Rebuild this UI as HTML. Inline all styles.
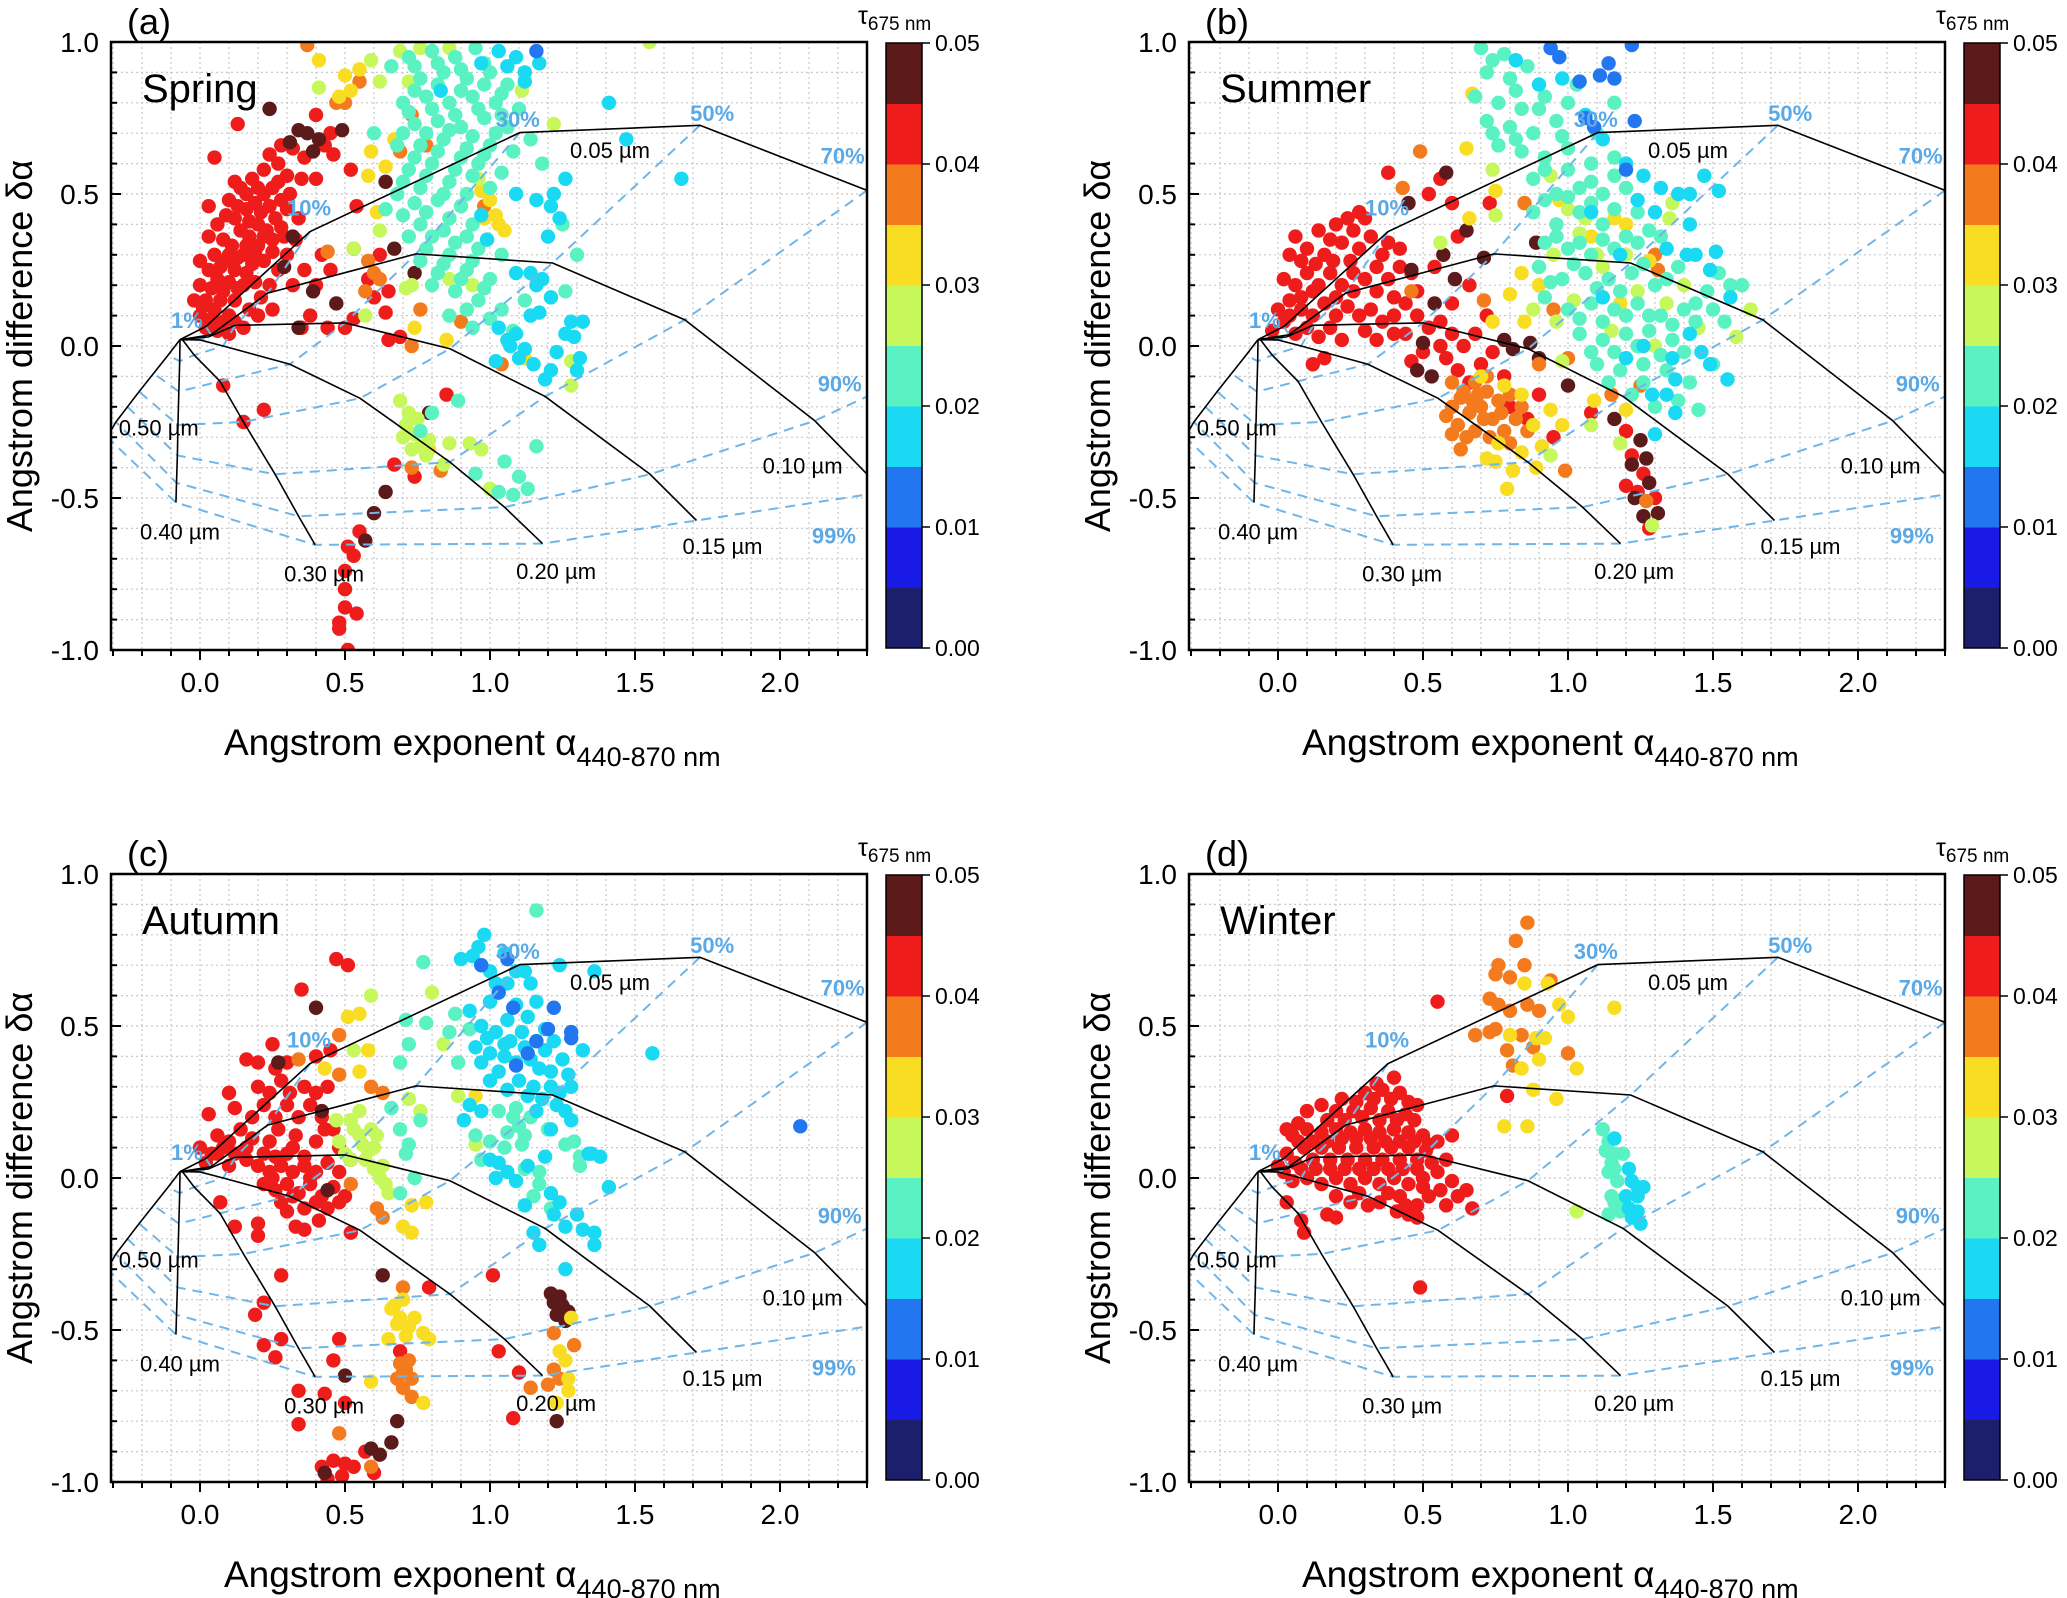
<!DOCTYPE html>
<html><head><meta charset="utf-8">
<style>
html,body{margin:0;padding:0;background:#fff;}
svg{display:block;}
text{font-family:"Liberation Sans",Arial,sans-serif;}
</style></head>
<body>
<svg id="fig" xmlns="http://www.w3.org/2000/svg" width="2067" height="1598" viewBox="0 0 2067 1598"></svg>
<script>
// ---------- data ----------
const xTicks = [0.0, 0.5, 1.0, 1.5, 2.0];
const xTickLabels = ["0.0","0.5","1.0","1.5","2.0"];
const yTicks = [1.0, 0.5, 0.0, -0.5, -1.0];
const yTickLabels = ["1.0","0.5","0.0","-0.5","-1.0"];
const cbTicks = [0.00,0.01,0.02,0.03,0.04,0.05];
const cbTickLabels = ["0.00","0.01","0.02","0.03","0.04","0.05"];
const cbColors = ["#1b1f6c","#1a1ae6","#2276f0","#19d9f3","#5af2c2","#c7f85b","#f8dd22","#f47a1e","#ef1c1c","#5c1a1a"];
const panelNames = ["Spring","Summer","Autumn","Winter"];
const panelLetters = ["(a)","(b)","(c)","(d)"];
const radiusLabels = ["0.05 µm","0.10 µm","0.15 µm","0.20 µm","0.30 µm","0.40 µm","0.50 µm"];
const fractionLabels = ["1%","10%","30%","50%","70%","90%","99%"];
const netR005 = [[0.02,0.064],[0.379,0.376],[1.103,0.702],[1.724,0.726],[2.30,0.512],[2.9,0.1],[3.2,-0.3]];
const netR010 = [[0.038,0.037],[0.233,0.174],[0.745,0.303],[1.216,0.273],[1.672,0.086],[2.12,-0.246],[2.36,-0.48]];
const netR015 = [[0.03,0.03],[0.121,0.068],[0.5,0.076],[0.862,-0.009],[1.19,-0.166],[1.552,-0.422],[1.712,-0.574]];
const netR020 = [[0.0,0.02],[0.08,0.0],[0.31,-0.06],[0.552,-0.172],[0.862,-0.382],[1.05,-0.53],[1.181,-0.65]];
const netR030 = [[-0.06,0.02],[-0.02,-0.03],[0.069,-0.116],[0.15,-0.25],[0.259,-0.422],[0.34,-0.56],[0.397,-0.654]];
const netR040 = [[-0.069,0.021],[-0.07,-0.05],[-0.073,-0.15],[-0.076,-0.26],[-0.078,-0.36],[-0.081,-0.45],[-0.083,-0.515]];
const netR050 = [[-0.069,0.021],[-0.11,-0.03],[-0.16,-0.09],[-0.21,-0.15],[-0.25,-0.2],[-0.29,-0.25],[-0.32,-0.3]];
const netOrigin = [-0.069,0.021];
const radiusLabelPos = [[1.276,0.618],[1.94,-0.42],[1.664,-0.685],[1.09,-0.767],[0.29,-0.774],[-0.207,-0.637],[-0.28,-0.295]];
const fractionLabelPos = [[-0.1,0.06],[0.3,0.43],[1.02,0.72],[1.69,0.74],[2.14,0.6],[2.13,-0.15],[2.11,-0.65]];

const springPts = [
[0.0,0.1,.0425],[0.02,0.15,.0425],[0.05,0.12,.0425],[0.08,0.18,.0425],[0.1,0.1,.0425],[0.12,0.15,.0425],[0.15,0.2,.0425],[0.0,0.2,.0425],[0.03,0.25,.0425],[0.06,0.22,.0425],[0.09,0.28,.0425],[0.12,0.25,.0425],[0.15,0.3,.0425],[0.18,0.27,.0425],[0.2,0.33,.0425],[0.05,0.3,.0425],[0.08,0.35,.0425],[0.11,0.33,.0425],[0.14,0.38,.0425],[0.17,0.36,.0425],[0.2,0.4,.0425],[0.23,0.38,.0425],[0.26,0.42,.0425],[0.12,0.42,.0425],[0.16,0.45,.0425],[0.19,0.47,.0425],[0.22,0.5,.0425],[0.25,0.52,.0425],[0.28,0.48,.0425],[0.3,0.45,.0425],[0.18,0.55,.0425],[0.22,0.58,.0425],[0.27,0.6,.0425],[0.3,0.56,.0425],[0.02,0.06,.0425],[0.06,0.05,.0425],[0.1,0.04,.0425],[0.15,0.06,.0425],[0.2,0.1,.0425],[0.24,0.2,.0425],[0.27,0.25,.0425],[0.3,0.3,.0425],[0.33,0.35,.0425],[0.32,0.2,.0425],[0.25,0.12,.0425],[0.35,0.06,.0425],[0.38,0.1,.0425],[0.4,0.2,.0425],[0.36,0.25,.0425],[0.42,0.3,.0425],[-0.02,0.15,.0425],[0.0,0.28,.0425],[0.03,0.36,.0425],[0.1,0.48,.0425],[0.14,0.52,.0425],[0.32,0.65,.0425],[0.36,0.62,.0425],[0.4,0.55,.0425],[0.05,0.62,.0425],[0.13,0.73,.0425],[0.12,0.54,.0425],[0.03,0.46,.0425],[0.45,0.25,.0425],[0.5,0.06,.0425],[0.44,0.06,.0425],[0.08,0.08,.0425],
[0.01,0.13,.0425],[0.04,0.19,.0425],[0.07,0.15,.0425],[0.1,0.21,.0425],[0.13,0.19,.0425],[0.16,0.24,.0425],[0.19,0.21,.0425],[0.22,0.28,.0425],[0.25,0.31,.0425],[0.07,0.26,.0425],[0.1,0.3,.0425],[0.13,0.29,.0425],[0.16,0.33,.0425],[0.19,0.31,.0425],[0.22,0.36,.0425],[0.25,0.35,.0425],[0.28,0.39,.0425],[0.06,0.4,.0425],[0.09,0.43,.0425],[0.13,0.46,.0425],[0.17,0.41,.0425],[0.21,0.44,.0425],[0.24,0.46,.0425],[0.27,0.54,.0425],[0.2,0.52,.0425],[0.16,0.5,.0425],[0.04,0.09,.0425],[0.12,0.08,.0425],[0.17,0.12,.0425],[0.21,0.16,.0425],[0.29,0.36,.0425],[0.34,0.42,.0425],[0.31,0.5,.0425],[0.35,0.55,.0425],[0.24,0.63,.0425],[0.28,0.66,.0425],
[0.52,0.58,.0425],[0.46,0.63,.0425],[0.40,0.76,.0425],[0.54,0.46,.0425],[0.53,0.32,.0425],[0.65,0.18,.0425],[0.65,0.02,.0425],[0.69,0.03,.0425],[0.64,0.11,.0425],[0.53,0.09,.0425],[0.67,-0.39,.0425],[0.74,-0.43,.0425],[0.85,-0.16,.0425],[0.08,-0.13,.0425],[0.22,-0.21,.0425],[0.15,-0.25,.0425],[0.55,-0.61,.0425],[0.51,-0.66,.0425],[0.53,-0.69,.0425],[0.5,-0.74,.0425],[0.5,-0.86,.0425],[0.54,-0.88,.0425],[0.48,-0.91,.0425],[0.48,-0.93,.0425],[0.51,-1.0,.0425],[0.5,-0.8,.0425],[0.6,0.16,.0425],[0.62,0.3,.0425],[0.58,0.22,.0425],[0.43,0.66,.0425],[0.45,0.7,.0425],
[0.24,0.78,.0475],[0.34,0.71,.0475],[0.41,0.68,.0475],[0.49,0.71,.0475],[0.32,0.36,.0475],[0.29,0.26,.0475],[0.39,0.18,.0475],[0.47,0.14,.0475],[0.34,0.06,.0475],[0.74,0.24,.0475],[0.67,0.32,.0475],[0.64,0.54,.0475],[0.79,-0.22,.0475],[0.64,-0.48,.0475],[0.60,-0.55,.0475],[0.57,-0.64,.0475],[0.37,0.7,.0475],[0.39,0.64,.0475],[0.31,0.67,.0475],
[0.37,0.99,.0375],[0.5,0.80,.0375],[0.55,0.87,.0375],[0.73,0.76,.0375],[0.69,0.64,.0375],[0.78,0.66,.0375],[0.44,0.31,.0375],[0.6,0.24,.0375],[0.76,0.12,.0375],[0.9,0.08,.0375],[0.73,0.0,.0375],[0.98,0.46,.0375],[1.04,-0.06,.0375],[0.73,-0.4,.0375],[0.83,-0.41,.0375],[0.58,0.28,.0375],[0.62,0.22,.0375],[0.57,0.18,.0375],[0.47,0.8,.0375],
[0.41,0.94,.0325],[0.5,0.89,.0325],[0.55,0.91,.0325],[0.59,0.64,.0325],[0.67,0.68,.0325],[0.58,0.56,.0325],[0.64,0.59,.0325],[1.03,0.40,.0325],[1.05,0.38,.0325],[0.97,0.51,.0325],[0.74,0.06,.0325],[0.85,0.02,.0325],[1.12,-0.04,.0325],[0.79,-0.34,.0325],[1.0,0.48,.0325],[0.61,0.44,.0325],[1.02,0.43,.0325],[0.98,0.42,.0325],[0.48,0.82,.0325],[0.52,0.84,.0325],
[0.69,0.97,.0275],[0.76,0.98,.0275],[0.86,0.98,.0275],[0.62,0.87,.0275],[0.72,0.87,.0275],[0.53,0.32,.0275],[0.62,0.38,.0275],[0.71,0.19,.0275],[0.86,0.22,.0275],[0.94,0.2,.0275],[1.28,-0.05,.0275],[1.28,-0.13,.0275],[0.69,-0.18,.0275],[0.72,-0.22,.0275],[0.74,-0.29,.0275],[0.76,-0.33,.0275],[0.79,-0.31,.0275],[0.86,-0.32,.0275],[0.93,-0.32,.0275],[0.97,-0.34,.0275],[0.84,-0.39,.0275],[1.0,-0.47,.0275],[1.55,1.0,.0275],[1.22,0.73,.0275],[1.11,0.84,.0275],[0.71,-0.26,.0275],[0.75,-0.24,.0275],[0.41,0.85,.0275],[0.59,0.94,.0275],[0.73,0.2,.0275],[0.57,0.1,.0275],[0.7,-0.3,.0275],[0.73,-0.34,.0275],[0.78,-0.36,.0275],[0.9,0.46,.0275],[0.96,0.55,.0275],
[0.72,0.95,.0225],[0.8,0.97,.0225],[0.88,0.95,.0225],[0.95,0.98,.0225],[0.76,0.88,.0225],[0.84,0.9,.0225],[0.92,0.88,.0225],[1.0,0.9,.0225],[1.06,0.86,.0225],[0.7,0.8,.0225],[0.78,0.82,.0225],[0.86,0.8,.0225],[0.94,0.82,.0225],[1.02,0.8,.0225],[1.1,0.78,.0225],[0.74,0.73,.0225],[0.82,0.74,.0225],[0.9,0.72,.0225],[0.98,0.75,.0225],[1.06,0.72,.0225],[0.68,0.66,.0225],[0.76,0.66,.0225],[0.84,0.68,.0225],[0.92,0.65,.0225],[1.0,0.66,.0225],[1.08,0.64,.0225],[0.72,0.58,.0225],[0.8,0.6,.0225],[0.88,0.58,.0225],[0.96,0.6,.0225],[1.04,0.57,.0225],[0.68,0.5,.0225],[0.76,0.52,.0225],[0.84,0.5,.0225],[0.92,0.5,.0225],[1.0,0.52,.0225],[0.7,0.43,.0225],[0.78,0.44,.0225],[0.86,0.42,.0225],[0.94,0.4,.0225],[0.72,0.36,.0225],[0.8,0.36,.0225],[0.88,0.34,.0225],[0.96,0.32,.0225],[1.04,0.3,.0225],[0.76,0.28,.0225],[0.84,0.27,.0225],[0.92,0.25,.0225],[1.0,0.22,.0225],[0.8,0.2,.0225],[0.88,0.18,.0225],[0.96,0.15,.0225],[1.04,0.12,.0225],[0.86,0.1,.0225],[0.94,0.06,.0225],[1.08,0.05,.0225],[1.12,0.15,.0225],[0.64,0.45,.0225],[0.6,0.7,.0225],[0.66,0.92,.0225],[1.14,0.68,.0225],[1.18,0.6,.0225],[1.25,0.4,.0225],[1.3,0.3,.0225],[1.26,0.18,.0225],[1.05,-0.38,.0225],[1.08,-0.49,.0225],[1.16,-0.33,.0225],[1.13,-0.47,.0225],[1.1,-0.43,.0225],[0.89,-0.18,.0225],[0.8,-0.22,.0225],[0.76,-0.28,.0225],[0.95,-0.42,.0225],[1.03,-0.48,.0225],
[0.74,0.92,.0225],[0.82,0.93,.0225],[0.9,0.91,.0225],[0.98,0.93,.0225],[0.74,0.84,.0225],[0.82,0.86,.0225],[0.9,0.84,.0225],[0.98,0.86,.0225],[1.04,0.83,.0225],[0.72,0.77,.0225],[0.8,0.78,.0225],[0.88,0.76,.0225],[0.96,0.78,.0225],[1.04,0.76,.0225],[0.7,0.7,.0225],[0.78,0.7,.0225],[0.86,0.71,.0225],[0.94,0.69,.0225],[1.02,0.7,.0225],[0.74,0.62,.0225],[0.82,0.64,.0225],[0.9,0.62,.0225],[0.98,0.63,.0225],[0.7,0.54,.0225],[0.78,0.56,.0225],[0.86,0.54,.0225],[0.94,0.56,.0225],[0.74,0.47,.0225],[0.82,0.48,.0225],[0.9,0.46,.0225],[0.76,0.4,.0225],[0.84,0.38,.0225],[0.92,0.36,.0225],[0.78,0.32,.0225],[0.86,0.3,.0225],[0.94,0.28,.0225],[0.82,0.24,.0225],[0.9,0.22,.0225],[0.98,0.19,.0225],[0.92,0.12,.0225],[1.0,0.09,.0225],
[1.41,0.8,.0175],[1.47,0.68,.0175],[1.66,0.55,.0175],[1.26,0.55,.0175],[1.21,0.46,.0175],[1.16,0.48,.0175],[1.09,0.5,.0175],[0.97,0.43,.0175],[0.99,0.35,.0175],[1.14,0.24,.0175],[1.21,0.16,.0175],[1.17,0.11,.0175],[1.28,0.08,.0175],[1.32,0.08,.0175],[1.29,0.03,.0175],[1.23,-0.02,.0175],[1.31,-0.04,.0175],[1.3,-0.08,.0175],[1.19,-0.11,.0175],[1.21,-0.08,.0175],[1.12,-0.01,.0175],[1.03,0.06,.0175],[1.07,0.0,.0175],[1.09,0.04,.0175],[1.02,-0.05,.0175],[1.1,-0.04,.0175],[1.14,0.1,.0175],[1.18,0.22,.0175],[1.09,0.24,.0175],[0.83,0.84,.0175],[0.97,0.93,.0175],[1.09,0.95,.0175],[1.17,0.93,.0175],[1.12,0.9,.0175],[1.03,0.97,.0175],[1.2,0.36,.0175],[1.22,0.5,.0175],[1.24,0.42,.0175],[1.16,0.2,.0175],[1.06,0.02,.0175],[1.15,-0.06,.0175],[1.26,0.04,.0175],[1.12,0.87,.0175],[1.06,0.92,.0175],
[1.16,0.97,.0125]
];
const summerPts = [
[-0.02,0.05,.0425],[0.02,0.08,.0425],[0.06,0.04,.0425],[0.1,0.06,.0425],[0.14,0.03,.0425],[0.18,0.06,.0425],[0.22,0.02,.0425],[0.0,0.12,.0425],[0.04,0.15,.0425],[0.08,0.12,.0425],[0.12,0.1,.0425],[0.16,0.14,.0425],[0.2,0.1,.0425],[0.24,0.13,.0425],[0.28,0.1,.0425],[0.32,0.12,.0425],[0.36,0.08,.0425],[0.4,0.1,.0425],[0.02,0.22,.0425],[0.06,0.2,.0425],[0.1,0.24,.0425],[0.14,0.2,.0425],[0.18,0.24,.0425],[0.22,0.2,.0425],[0.26,0.24,.0425],[0.3,0.22,.0425],[0.34,0.26,.0425],[0.38,0.22,.0425],[0.42,0.26,.0425],[0.46,0.24,.0425],[0.04,0.3,.0425],[0.1,0.32,.0425],[0.16,0.3,.0425],[0.22,0.34,.0425],[0.28,0.32,.0425],[0.32,0.36,.0425],[0.38,0.34,.0425],[0.14,0.38,.0425],[0.2,0.4,.0425],[0.26,0.38,.0425],[0.3,0.42,.0425],[0.44,0.14,.0425],[0.48,0.1,.0425],[0.52,0.06,.0425],[0.56,0.08,.0425],[0.6,0.04,.0425],[0.64,0.0,.0425],[0.44,0.04,.0425],[0.5,-0.02,.0425],[0.58,-0.04,.0425],[0.62,-0.08,.0425],[0.7,-0.06,.0425],[0.46,-0.05,.0425],[0.38,0.57,.0425],[0.56,0.55,.0425],[0.52,0.5,.0425],[0.28,0.44,.0425],[0.6,0.47,.0425],[0.73,0.47,.0425],[0.62,0.36,.0425],[0.54,0.26,.0425],[0.66,0.2,.0425],[0.6,0.14,.0425],[0.72,0.1,.0425],[0.78,-0.1,.0425],[0.8,-0.2,.0425],[0.86,-0.24,.0425],[0.9,-0.16,.0425],[0.95,-0.3,.0425],[1.2,-0.28,.0425],[1.22,-0.36,.0425],[1.26,-0.42,.0425],[1.24,-0.48,.0425],[1.3,-0.5,.0425],[1.28,-0.6,.0425],[1.2,-0.46,.0425],[0.12,-0.06,.0425],[0.16,-0.04,.0425],[1.08,-0.22,.0425],
[0.04,0.1,.0425],[0.08,0.16,.0425],[0.12,0.18,.0425],[0.2,0.16,.0425],[0.26,0.18,.0425],[0.34,0.18,.0425],[0.4,0.16,.0425],[0.48,0.18,.0425],[0.08,0.28,.0425],[0.13,0.27,.0425],[0.19,0.28,.0425],[0.25,0.28,.0425],[0.36,0.3,.0425],[0.42,0.32,.0425],[0.18,0.35,.0425],[0.24,0.42,.0425],[0.4,0.04,.0425],[0.56,0.0,.0425],[0.66,-0.12,.0425],[0.74,-0.02,.0425],[0.68,0.04,.0425],[0.3,0.05,.0425],[0.34,0.02,.0425],[0.06,0.36,.0425],
[0.58,0.57,.0475],[0.45,0.47,.0475],[0.65,0.38,.0475],[0.57,0.3,.0475],[0.46,0.25,.0475],[0.61,0.22,.0475],[0.71,0.29,.0475],[0.54,0.14,.0475],[0.5,0.01,.0475],[0.48,-0.08,.0475],[0.53,-0.1,.0475],[0.78,0.02,.0475],[0.87,0.01,.0475],[0.9,-0.04,.0475],[0.81,-0.01,.0475],[1.0,-0.13,.0475],[1.16,-0.24,.0475],[1.25,-0.31,.0475],[1.22,-0.39,.0475],[1.27,-0.37,.0475],[1.28,-0.45,.0475],[1.23,-0.5,.0475],[1.26,-0.56,.0475],[1.31,-0.55,.0475],[0.89,0.34,.0475],
[0.6,-0.12,.0375],[0.64,-0.15,.0375],[0.68,-0.12,.0375],[0.72,-0.15,.0375],[0.76,-0.18,.0375],[0.6,-0.2,.0375],[0.66,-0.22,.0375],[0.7,-0.2,.0375],[0.74,-0.24,.0375],[0.8,-0.16,.0375],[0.84,-0.2,.0375],[0.62,-0.26,.0375],[0.68,-0.28,.0375],[0.78,-0.28,.0375],[0.86,-0.28,.0375],[0.72,-0.1,.0375],[0.49,0.64,.0375],[0.43,0.52,.0375],[0.46,0.18,.0375],[0.71,0.15,.0375],[0.85,0.47,.0375],[0.95,0.12,.0375],[1.0,-0.04,.0375],[1.15,-0.16,.0375],[1.25,-0.13,.0375],[1.31,0.25,.0375],[0.99,-0.41,.0375],[1.27,-0.51,.0375],[0.63,-0.34,.0375],[0.58,-0.23,.0375],[0.9,-0.06,.0375],[1.3,0.3,.0375],
[0.63,-0.17,.0375],[0.67,-0.18,.0375],[0.71,-0.24,.0375],[0.77,-0.22,.0375],[0.82,-0.24,.0375],[0.65,-0.3,.0375],[0.73,-0.3,.0375],[0.8,-0.32,.0375],[0.6,-0.29,.0375],[0.69,-0.16,.0375],
[0.65,0.65,.0325],[0.67,0.83,.0325],[0.75,0.51,.0325],[0.66,0.42,.0325],[0.84,0.24,.0325],[0.8,0.17,.0325],[0.85,0.08,.0325],[0.74,0.08,.0325],[0.7,-0.1,.0325],[0.78,-0.13,.0325],[0.84,-0.16,.0325],[0.94,-0.21,.0325],[1.09,-0.18,.0325],[1.2,-0.21,.0325],[0.72,-0.37,.0325],[0.75,-0.38,.0325],[0.81,-0.41,.0325],[0.89,-0.4,.0325],[0.79,-0.47,.0325],[0.91,-0.33,.0325],[1.16,0.42,.0325],[1.2,0.4,.0325],[0.97,0.48,.0325],[1.18,0.14,.0325],[1.28,0.28,.0325],[1.08,0.36,.0325],[0.9,0.2,.0325],[0.76,-0.32,.0325],[0.84,-0.35,.0325],[0.88,-0.26,.0325],[0.98,-0.26,.0325],
[0.56,0.34,.0275],[0.75,0.43,.0275],[0.74,0.58,.0275],[0.94,0.56,.0275],[1.0,0.45,.0275],[1.04,0.37,.0275],[1.1,0.3,.0275],[1.63,0.12,.0275],[1.58,0.03,.0275],[1.45,0.06,.0275],[1.18,-0.32,.0275],[1.29,-0.59,.0275],[0.94,-0.36,.0275],[1.08,-0.26,.0275],[1.35,0.42,.0275],[1.36,0.47,.0275],[0.95,0.3,.0275],[1.02,0.15,.0275],[1.15,0.05,.0275],[0.88,0.12,.0275],[1.3,0.0,.0275],[1.4,0.2,.0275],[0.98,-0.05,.0275],[1.06,0.42,.0275],[1.12,0.26,.0275],[0.96,0.08,.0275],[1.24,0.18,.0275],[1.34,0.14,.0275],[1.2,0.3,.0275],
[0.7,0.98,.0225],[0.78,0.96,.0225],[0.72,0.9,.0225],[0.8,0.88,.0225],[0.86,0.92,.0225],[0.68,0.82,.0225],[0.76,0.8,.0225],[0.84,0.78,.0225],[0.92,0.82,.0225],[0.72,0.74,.0225],[0.8,0.72,.0225],[0.88,0.7,.0225],[0.96,0.74,.0225],[1.0,0.8,.0225],[0.76,0.66,.0225],[0.84,0.64,.0225],[0.92,0.62,.0225],[1.0,0.65,.0225],[1.08,0.6,.0225],[1.16,0.62,.0225],[0.88,0.55,.0225],[0.96,0.5,.0225],[1.04,0.52,.0225],[1.12,0.5,.0225],[1.2,0.52,.0225],[0.88,0.44,.0225],[0.96,0.4,.0225],[1.04,0.44,.0225],[1.12,0.4,.0225],[1.24,0.44,.0225],[0.92,0.34,.0225],[1.0,0.32,.0225],[1.08,0.3,.0225],[1.16,0.32,.0225],[1.24,0.34,.0225],[1.32,0.36,.0225],[0.9,0.26,.0225],[0.98,0.22,.0225],[1.06,0.24,.0225],[1.14,0.22,.0225],[1.22,0.24,.0225],[1.3,0.2,.0225],[1.38,0.26,.0225],[0.92,0.16,.0225],[1.0,0.12,.0225],[1.08,0.14,.0225],[1.16,0.12,.0225],[1.24,0.14,.0225],[1.32,0.1,.0225],[1.4,0.12,.0225],[1.48,0.18,.0225],[1.04,0.04,.0225],[1.12,0.02,.0225],[1.2,0.04,.0225],[1.28,0.05,.0225],[1.36,0.02,.0225],[1.44,0.08,.0225],[1.1,-0.06,.0225],[1.18,-0.08,.0225],[1.26,-0.06,.0225],[1.34,-0.08,.0225],[1.22,-0.16,.0225],[1.3,-0.2,.0225],[1.38,-0.18,.0225],[1.52,0.24,.0225],[1.56,0.2,.0225],[1.6,0.2,.0225],[1.5,0.12,.0225],[1.45,-0.21,.0225],[1.5,-0.06,.0225],[1.1,0.7,.0225],[1.16,0.8,.0225],[1.03,0.86,.0225],
[0.74,0.94,.0225],[0.82,0.84,.0225],[0.9,0.78,.0225],[0.74,0.7,.0225],[0.82,0.68,.0225],[0.98,0.69,.0225],[0.92,0.58,.0225],[1.0,0.58,.0225],[1.08,0.54,.0225],[1.16,0.56,.0225],[0.92,0.48,.0225],[1.0,0.49,.0225],[1.08,0.47,.0225],[1.16,0.45,.0225],[0.96,0.36,.0225],[1.04,0.34,.0225],[1.12,0.35,.0225],[1.2,0.36,.0225],[1.28,0.38,.0225],[0.94,0.21,.0225],[1.02,0.27,.0225],[1.1,0.19,.0225],[1.18,0.18,.0225],[1.26,0.27,.0225],[1.34,0.22,.0225],[1.04,0.09,.0225],[1.12,0.08,.0225],[1.2,0.1,.0225],[1.28,0.1,.0225],[1.36,0.07,.0225],[1.08,-0.02,.0225],[1.16,-0.02,.0225],[1.24,0.0,.0225],[1.32,-0.03,.0225],[1.4,-0.02,.0225],[1.14,-0.12,.0225],[1.26,-0.12,.0225],[1.42,-0.12,.0225],[1.44,0.14,.0225],[1.54,0.08,.0225],
[0.94,0.98,.0175],[0.82,0.94,.0175],[0.9,0.86,.0175],[0.98,0.88,.0175],[1.06,0.76,.0175],[1.12,0.68,.0175],[1.2,0.6,.0175],[1.26,0.56,.0175],[1.32,0.52,.0175],[1.38,0.5,.0175],[1.47,0.56,.0175],[1.52,0.51,.0175],[1.42,0.5,.0175],[1.41,0.3,.0175],[1.51,0.31,.0175],[1.49,0.25,.0175],[1.56,0.16,.0175],[1.46,-0.02,.0175],[1.49,-0.06,.0175],[1.55,-0.11,.0175],[1.37,-0.11,.0175],[1.34,-0.16,.0175],[1.37,-0.22,.0175],[1.3,-0.29,.0175],[1.29,-0.16,.0175],[1.2,-0.04,.0175],[1.26,0.0,.0175],[1.3,0.44,.0175],[1.18,0.3,.0175],[1.12,0.16,.0175],[1.42,0.4,.0175],[1.44,0.3,.0175],[1.08,0.44,.0175],[1.24,0.48,.0175],[1.34,0.32,.0175],[1.42,0.04,.0175],[1.36,-0.04,.0175],
[0.94,0.98,.0125],[0.97,0.95,.0125],[1.11,0.89,.0125],[1.16,0.88,.0125],[1.22,0.99,.0125],[1.14,0.93,.0125],[1.04,0.87,.0125],[1.09,0.72,.0125],[1.06,0.75,.0125],[1.23,0.74,.0125],[1.2,0.58,.0125]
];
const autumnPts = [
[0.47,0.72,.0425],[0.51,0.7,.0425],[0.35,0.62,.0425],[0.16,0.39,.0425],[0.2,0.38,.0425],[0.1,0.28,.0425],[0.03,0.21,.0425],[0.07,-0.08,.0425],[0.12,-0.16,.0425],[0.2,-0.15,.0425],[0.2,-0.19,.0425],[0.33,-0.16,.0425],[0.36,-0.17,.0425],[0.41,-0.14,.0425],[0.52,-0.18,.0425],[0.28,-0.32,.0425],[0.22,-0.41,.0425],[0.19,-0.45,.0425],[0.22,-0.55,.0425],[0.26,-0.59,.0425],[0.28,-0.53,.0425],[0.48,-0.53,.0425],[0.46,-0.6,.0425],[0.34,-0.7,.0425],[0.43,-0.71,.0425],[0.34,-0.81,.0425],[0.46,-0.93,.0425],[0.5,-0.94,.0425],[0.42,-0.95,.0425],[0.53,-0.95,.0425],[0.49,-0.98,.0425],[0.44,-0.99,.0425],[0.57,-0.9,.0425],[0.6,-0.97,.0425],[0.79,-0.36,.0425],[1.01,-0.32,.0425],[1.03,-0.57,.0425],[1.1,-0.64,.0425],[1.08,-0.79,.0425],[0.69,-0.57,.0425],[0.5,-0.74,.0425],
[0.02,0.05,.0425],[0.06,0.08,.0425],[0.1,0.12,.0425],[0.14,0.16,.0425],[0.06,0.14,.0425],[0.0,0.1,.0425],[0.18,0.2,.0425],[0.22,0.24,.0425],[0.26,0.2,.0425],[0.3,0.24,.0425],[0.34,0.2,.0425],[0.38,0.24,.0425],[0.42,0.2,.0425],[0.46,0.16,.0425],[0.2,0.3,.0425],[0.28,0.32,.0425],[0.36,0.3,.0425],[0.44,0.3,.0425],[0.3,0.38,.0425],[0.4,0.4,.0425],[0.24,0.12,.0425],[0.32,0.1,.0425],[0.4,0.12,.0425],[0.48,0.1,.0425],[0.1,0.04,.0425],[0.16,0.06,.0425],[0.2,0.04,.0425],[0.24,0.02,.0425],[0.28,0.04,.0425],[0.32,0.02,.0425],[0.36,0.04,.0425],[0.4,0.02,.0425],[0.44,0.05,.0425],[0.48,0.02,.0425],[0.22,-0.02,.0425],[0.26,-0.04,.0425],[0.3,-0.02,.0425],[0.34,-0.05,.0425],[0.38,-0.02,.0425],[0.42,-0.06,.0425],[0.46,-0.03,.0425],[0.5,-0.06,.0425],[0.28,-0.08,.0425],[0.36,-0.1,.0425],[0.44,-0.1,.0425],[0.3,0.08,.0425],[0.36,0.07,.0425],[0.16,0.1,.0425],[0.52,0.06,.0425],[0.25,0.44,.0425],[0.45,0.42,.0425],
[0.04,0.08,.0425],[0.08,0.1,.0425],[0.12,0.08,.0425],[0.18,0.13,.0425],[0.27,0.16,.0425],[0.31,0.28,.0425],[0.24,0.28,.0425],[0.4,0.28,.0425],[0.33,0.14,.0425],[0.43,0.16,.0425],[0.22,0.08,.0425],[0.26,0.07,.0425],[0.38,0.0,.0425],[0.25,0.0,.0425],[0.32,-0.06,.0425],[0.4,-0.08,.0425],[0.48,-0.08,.0425],[0.3,-0.11,.0425],[0.26,0.36,.0425],[0.12,0.23,.0425],
[0.4,0.56,.0475],[0.27,0.38,.0475],[0.42,0.22,.0475],[0.44,-0.04,.0475],[0.63,-0.32,.0475],[0.5,-0.65,.0475],[0.68,-0.8,.0475],[0.66,-0.87,.0475],[0.59,-0.89,.0475],[0.62,-0.91,.0475],[0.43,-0.97,.0475],[1.23,-0.8,.0475],[1.21,-0.38,.0475],[1.22,-0.41,.0475],[1.25,-0.42,.0475],[1.27,-0.44,.0475],[1.23,-0.45,.0475],[1.24,-0.39,.0475],[1.26,-0.47,.0475],
[0.48,0.47,.0375],[0.34,0.39,.0375],[0.48,0.34,.0375],[0.59,0.3,.0375],[0.63,0.28,.0375],[0.61,-0.1,.0375],[0.63,-0.13,.0375],[0.52,-0.02,.0375],[0.7,-0.36,.0375],[0.69,-0.61,.0375],[0.71,-0.63,.0375],[0.73,-0.66,.0375],[0.7,-0.69,.0375],[0.73,-0.72,.0375],[0.7,-0.64,.0375],[0.48,-0.84,.0375],[0.59,-0.95,.0375],[1.14,-0.69,.0375],[1.22,-0.51,.0375],[1.22,-0.63,.0375],[1.24,-0.66,.0375],[1.29,-0.55,.0375],[0.72,-0.6,.0375],[0.68,-0.66,.0375],[1.2,-0.68,.0375],
[0.51,0.53,.0325],[0.55,0.54,.0325],[0.58,0.42,.0325],[0.43,0.36,.0325],[0.55,0.35,.0325],[0.95,0.27,.0325],[0.73,-0.09,.0325],[0.78,-0.08,.0325],[0.7,-0.16,.0325],[0.73,-0.18,.0325],[0.7,-0.4,.0325],[0.66,-0.43,.0325],[0.69,-0.46,.0325],[0.72,-0.49,.0325],[0.77,-0.51,.0325],[0.79,-0.53,.0325],[0.65,-0.53,.0325],[0.68,-0.48,.0325],[0.59,-0.67,.0325],[0.77,-0.74,.0325],[1.28,-0.46,.0325],[1.24,-0.57,.0325],[1.27,-0.66,.0325],[1.27,-0.7,.0325],[1.23,-0.74,.0325],[1.26,-0.6,.0325],[0.67,-0.42,.0325],[0.74,-0.46,.0325],[0.71,-0.52,.0325],
[0.59,0.6,.0275],[0.53,0.42,.0275],[0.84,0.44,.0275],[0.8,0.61,.0275],[0.72,0.26,.0275],[0.76,0.22,.0275],[0.52,0.19,.0275],[0.47,0.19,.0275],[0.55,0.22,.0275],[0.59,0.16,.0275],[0.61,0.14,.0275],[0.5,0.08,.0275],[0.52,0.06,.0275],[0.57,0.06,.0275],[0.6,0.03,.0275],[0.64,-0.02,.0275],[0.65,-0.05,.0275],[0.62,0.0,.0275],[0.95,0.11,.0275],[0.89,0.27,.0275],[0.56,0.11,.0275],[0.48,0.12,.0275],[0.55,0.14,.0275],[0.58,0.09,.0275],[0.53,0.16,.0275],[0.6,0.1,.0275],[0.63,0.04,.0275],
[1.16,0.88,.0225],[0.77,0.71,.0225],[0.71,0.52,.0225],[0.78,0.51,.0225],[0.69,0.38,.0225],[0.72,0.44,.0225],[0.88,0.54,.0225],[0.89,0.38,.0225],[0.93,0.49,.0225],[0.86,0.48,.0225],[0.66,0.23,.0225],[0.69,0.16,.0225],[0.72,0.11,.0225],[0.76,0.19,.0225],[0.71,0.08,.0225],[0.74,0.0,.0225],[0.69,-0.05,.0225],[1.03,0.22,.0225],[1.08,0.2,.0225],[1.1,0.17,.0225],[1.12,0.14,.0225],[1.14,0.2,.0225],[1.06,0.15,.0225],[0.95,0.14,.0225],[1.0,0.12,.0225],[0.97,0.06,.0225],[1.12,0.03,.0225],[1.17,-0.02,.0225],[1.15,-0.06,.0225],[1.21,-0.1,.0225],[1.26,0.11,.0225],[1.31,0.07,.0225],[1.29,0.12,.0225],[1.31,0.04,.0225],[1.17,0.02,.0225],[1.2,0.16,.0225],[1.09,0.23,.0225],[1.11,0.11,.0225],[1.05,0.1,.0225],
[0.98,0.8,.0175],[0.9,0.72,.0175],[0.94,0.73,.0175],[0.97,0.7,.0175],[1.0,0.68,.0175],[1.02,0.64,.0175],[1.09,0.68,.0175],[1.12,0.68,.0175],[1.14,0.64,.0175],[1.03,0.61,.0175],[1.09,0.57,.0175],[1.13,0.53,.0175],[0.93,0.55,.0175],[0.97,0.5,.0175],[1.02,0.48,.0175],[1.07,0.45,.0175],[1.11,0.48,.0175],[1.16,0.45,.0175],[1.19,0.49,.0175],[1.22,0.45,.0175],[0.95,0.43,.0175],[1.0,0.41,.0175],[1.05,0.4,.0175],[1.09,0.38,.0175],[1.14,0.39,.0175],[1.17,0.36,.0175],[1.21,0.35,.0175],[0.97,0.38,.0175],[1.03,0.35,.0175],[1.1,0.32,.0175],[1.15,0.3,.0175],[1.21,0.3,.0175],[1.27,0.34,.0175],[1.32,0.42,.0175],[1.28,0.3,.0175],[1.23,0.24,.0175],[1.28,0.19,.0175],[1.16,0.22,.0175],[1.21,0.16,.0175],[0.93,0.24,.0175],[0.91,0.19,.0175],[0.97,0.22,.0175],[1.0,0.06,.0175],[1.03,0.05,.0175],[1.02,0.0,.0175],[1.09,-0.01,.0175],[1.12,-0.09,.0175],[1.13,0.04,.0175],[1.21,-0.05,.0175],[1.22,-0.12,.0175],[1.26,-0.16,.0175],[1.32,-0.17,.0175],[1.15,-0.18,.0175],[1.17,-0.22,.0175],[1.36,-0.18,.0175],[1.36,-0.22,.0175],[1.26,-0.3,.0175],[1.41,-0.03,.0175],[1.56,0.41,.0175],[1.35,0.08,.0175],[1.38,0.07,.0175],[1.24,0.7,.0175],[1.36,0.68,.0175],[1.34,0.08,.0175],
[0.96,0.76,.0175],[1.05,0.74,.0175],[1.06,0.64,.0175],[1.0,0.58,.0175],[1.06,0.52,.0175],[1.16,0.58,.0175],[0.99,0.46,.0175],[1.05,0.44,.0175],[1.12,0.43,.0175],[1.19,0.42,.0175],[1.25,0.39,.0175],[1.0,0.32,.0175],[1.06,0.29,.0175],[1.13,0.27,.0175],[1.24,0.28,.0175],[1.18,0.26,.0175],[1.26,0.22,.0175],[1.06,0.02,.0175],[1.19,0.07,.0175],[1.24,-0.08,.0175],[1.3,-0.12,.0175],
[0.97,0.7,.0125],[1.06,0.72,.0125],[1.03,0.61,.0125],[1.08,0.56,.0125],[1.22,0.56,.0125],[1.28,0.48,.0125],[1.28,0.46,.0125],[1.2,0.49,.0125],[1.16,0.45,.0125],[1.13,0.41,.0125],[1.09,0.37,.0125],[2.07,0.17,.0125]
];
const winterPts = [
[0.0,0.04,.0425],[0.03,0.08,.0425],[0.06,0.05,.0425],[0.09,0.1,.0425],[0.12,0.06,.0425],[0.15,0.1,.0425],[0.18,0.06,.0425],[0.21,0.1,.0425],[0.24,0.06,.0425],[0.27,0.1,.0425],[0.3,0.06,.0425],[0.33,0.1,.0425],[0.36,0.06,.0425],[0.39,0.1,.0425],[0.42,0.06,.0425],[0.45,0.1,.0425],[0.48,0.06,.0425],[0.51,0.09,.0425],[0.05,0.14,.0425],[0.1,0.16,.0425],[0.15,0.15,.0425],[0.2,0.16,.0425],[0.25,0.15,.0425],[0.3,0.16,.0425],[0.35,0.15,.0425],[0.4,0.16,.0425],[0.45,0.15,.0425],[0.5,0.14,.0425],[0.2,0.22,.0425],[0.26,0.22,.0425],[0.32,0.23,.0425],[0.38,0.22,.0425],[0.44,0.21,.0425],[0.3,0.28,.0425],[0.36,0.29,.0425],[0.42,0.28,.0425],[0.48,0.24,.0425],[0.4,0.33,.0425],[0.22,0.26,.0425],[0.1,0.22,.0425],[0.05,-0.01,.0425],[0.1,0.0,.0425],[0.15,-0.02,.0425],[0.2,0.0,.0425],[0.25,-0.02,.0425],[0.3,0.0,.0425],[0.35,-0.02,.0425],[0.4,0.0,.0425],[0.45,-0.02,.0425],[0.5,0.0,.0425],[0.55,0.02,.0425],[0.58,0.06,.0425],[0.6,-0.01,.0425],[0.2,-0.06,.0425],[0.28,-0.05,.0425],[0.35,-0.08,.0425],[0.42,-0.06,.0425],[0.48,-0.09,.0425],[0.52,-0.06,.0425],[0.45,-0.12,.0425],[0.62,-0.06,.0425],[0.67,-0.1,.0425],[0.65,-0.04,.0425],[0.55,0.58,.0425],[0.79,0.27,.0425],[0.49,-0.36,.0425],[0.08,-0.14,.0425],[0.09,-0.18,.0425],[0.03,-0.08,.0425],[0.17,-0.12,.0425],[0.2,-0.13,.0425],[0.03,0.16,.0425],[0.07,0.18,.0425],[0.15,0.24,.0425],[0.55,0.12,.0425],[0.6,0.14,.0425],
[0.02,0.02,.0425],[0.07,0.12,.0425],[0.12,0.12,.0425],[0.17,0.12,.0425],[0.22,0.13,.0425],[0.27,0.13,.0425],[0.32,0.13,.0425],[0.37,0.12,.0425],[0.42,0.12,.0425],[0.47,0.12,.0425],[0.52,0.11,.0425],[0.17,0.19,.0425],[0.23,0.19,.0425],[0.29,0.2,.0425],[0.35,0.19,.0425],[0.41,0.19,.0425],[0.47,0.19,.0425],[0.27,0.25,.0425],[0.33,0.26,.0425],[0.39,0.26,.0425],[0.45,0.25,.0425],[0.34,0.31,.0425],[0.08,0.03,.0425],[0.13,0.03,.0425],[0.18,0.03,.0425],[0.23,0.03,.0425],[0.28,0.03,.0425],[0.33,0.03,.0425],[0.38,0.03,.0425],[0.43,0.03,.0425],[0.48,0.03,.0425],[0.53,0.05,.0425],[0.25,-0.08,.0425],[0.31,-0.09,.0425],[0.38,-0.05,.0425],[0.44,-0.09,.0425],[0.5,-0.03,.0425],[0.56,-0.04,.0425],[0.41,-0.11,.0425],[0.48,-0.13,.0425],[0.58,-0.09,.0425],
[0.86,0.84,.0375],[0.82,0.78,.0375],[0.85,0.7,.0375],[0.76,0.7,.0375],[0.75,0.67,.0375],[0.8,0.66,.0375],[0.94,0.65,.0375],[0.73,0.59,.0375],[0.76,0.57,.0375],[0.8,0.55,.0375],[0.86,0.57,.0375],[0.9,0.55,.0375],[0.68,0.47,.0375],[0.73,0.48,.0375],[0.75,0.49,.0375],[0.84,0.47,.0375],[0.88,0.43,.0375],[0.79,0.42,.0375],[0.81,0.37,.0375],[1.0,0.41,.0375],
[0.85,0.64,.0325],[0.93,0.64,.0325],[0.97,0.57,.0325],[1.0,0.53,.0325],[1.16,0.56,.0325],[0.8,0.47,.0325],[0.89,0.46,.0325],[0.92,0.46,.0325],[0.9,0.39,.0325],[0.84,0.36,.0325],[1.03,0.36,.0325],[0.88,0.29,.0325],[0.96,0.26,.0325],[0.78,0.17,.0325],[0.86,0.17,.0325],
[1.03,-0.11,.0275],
[1.12,0.16,.0225],[1.14,0.12,.0225],[1.13,0.09,.0225],[1.16,0.08,.0225],[1.19,0.08,.0225],[1.15,0.05,.0225],[1.16,0.03,.0225],[1.14,0.02,.0225],[1.17,-0.01,.0225],[1.15,-0.06,.0225],[1.16,-0.08,.0225],[1.19,-0.07,.0225],[1.14,-0.12,.0225],[1.18,-0.11,.0225],
[1.16,0.13,.0175],[1.21,0.03,.0175],[1.22,-0.01,.0175],[1.24,-0.03,.0175],[1.26,-0.03,.0175],[1.2,-0.06,.0175],[1.24,-0.06,.0175],[1.21,-0.1,.0175],[1.24,-0.11,.0175],[1.22,-0.13,.0175],[1.25,-0.15,.0175]
];
const panelData = [springPts, summerPts, autumnPts, winterPts];
const panelOffsets = [[0,0],[1078,0],[0,832],[1078,832]];

// ---------- drawing ----------
const NS = "http://www.w3.org/2000/svg";
const svg = document.getElementById("fig");
function mk(tag, attrs, parent){ const e=document.createElementNS(NS,tag); for(const k in attrs) e.setAttribute(k,attrs[k]); (parent||svg).appendChild(e); return e; }
function colorFor(t){ let i=Math.floor(t/0.005); if(i<0)i=0; if(i>9)i=9; return cbColors[i]; }

const netCurves = [netR005,netR010,netR015,netR020,netR030,netR040,netR050];
const X0=111, X1=867, Y0=42, Y1=650;

panelData.forEach((pts, p) => {
  const ox = panelOffsets[p][0], oy = panelOffsets[p][1];
  const sx = v => ox + 200 + v*290;
  const sy = v => oy + 346 - v*304;
  const g = mk("g", {});
  
  
  const cid = "clip"+p;
  const cp = mk("clipPath",{id:cid},g);
  mk("rect",{x:ox+X0,y:oy+Y0,width:X1-X0,height:Y1-Y0},cp);
  const grid = mk("g",{stroke:"#c8c8c8","stroke-width":1.2,"stroke-dasharray":"2,3"},g);
  
  
  for(let k=-3;k<=23;k++){ const x=sx(k/10); if(x>ox+X0+1&&x<ox+X1-1) mk("line",{x1:x,y1:oy+Y0,x2:x,y2:oy+Y1},grid); }
  for(let k=-9;k<=9;k++){ const y=sy(k/10); mk("line",{x1:ox+X0,y1:y,x2:ox+X1,y2:y},grid); }
  const dots = mk("g",{"clip-path":"url(#"+cid+")"},g);
  
  
  pts.forEach(d => {
    const c = mk("circle",{cx:sx(d[0]),cy:sy(d[1]),r:7.2,fill:colorFor(d[2])},dots);
    
    
  });
  const net = mk("g",{"clip-path":"url(#"+cid+")",fill:"none"},g);
  
  
  for(let j=0;j<7;j++){
    const ptsStr = netCurves.map(c=>sx(c[j][0])+","+sy(c[j][1])).join(" ");
    const pl = mk("polyline",{points:ptsStr,stroke:"#6fb6e8","stroke-width":2,"stroke-dasharray":"10,7"},net);
    
    
  }
  netCurves.forEach(c=>{
    const ptsStr = [netOrigin].concat(c).map(q=>sx(q[0])+","+sy(q[1])).join(" ");
    const pl = mk("polyline",{points:ptsStr,stroke:"#000","stroke-width":1.6},net);
    
    
  });
  radiusLabels.forEach((t,i)=>{
    const e = mk("text",{x:sx(radiusLabelPos[i][0]),y:sy(radiusLabelPos[i][1]),"font-size":22,fill:"#000"},g);
    e.textContent=t;
    
    
  });
  fractionLabels.forEach((t,i)=>{
    const e = mk("text",{x:sx(fractionLabelPos[i][0]),y:sy(fractionLabelPos[i][1]),"font-size":22,"font-weight":"bold",fill:"#5aa9e6"},g);
    e.textContent=t;
    
    
  });
  const fr = mk("rect",{x:ox+X0,y:oy+Y0,width:X1-X0,height:Y1-Y0,fill:"none",stroke:"#000","stroke-width":2.5},g);
  
  
  const tk = mk("g",{stroke:"#000","stroke-width":2},g);
  for(let k=-3;k<=23;k++){ const x=sx(k/10); if(x<ox+X0-1||x>ox+X1+1) continue; const L=(k%5===0)?10:6; mk("line",{x1:x,y1:oy+Y1,x2:x,y2:oy+Y1+L},tk); }
  for(let k=-10;k<=10;k++){ const y=sy(k/10); const L=(k%5===0)?10:6; mk("line",{x1:ox+X0,y1:y,x2:ox+X0+L,y2:y},tk); }
  xTicks.forEach((v,i)=>{
    const e=mk("text",{x:sx(v),y:oy+692,"font-size":28,"text-anchor":"middle"},g); e.textContent=xTickLabels[i];
    
    
  });
  yTicks.forEach((v,i)=>{
    const e=mk("text",{x:ox+99,y:sy(v)+10,"font-size":28,"text-anchor":"end"},g); e.textContent=yTickLabels[i];
    
    
  });
  const xt=mk("text",{x:ox+224,y:oy+755,"font-size":37},g);
  xt.innerHTML='Angstrom exponent α<tspan font-size="27" dy="11">440-870 nm</tspan>';
  
  
  const yt=mk("text",{x:0,y:0,"font-size":36,"text-anchor":"middle",transform:"translate("+(ox+32)+","+(oy+346)+") rotate(-90)"},g);
  yt.textContent="Angstrom difference δα";
  
  
  const lt=mk("text",{x:ox+127,y:oy+34,"font-size":36},g); lt.textContent=panelLetters[p];
  
  
  const st=mk("text",{x:ox+142,y:oy+102,"font-size":40},g); st.textContent=panelNames[p];
  
  
  const cb = mk("g",{},g);
  
  
  const cbx=ox+886, cbTop=oy+43, cbBot=oy+648, cbw=36;
  const band=(cbBot-cbTop)/cbColors.length;
  cbColors.forEach((c,i)=>{ mk("rect",{x:cbx,y:cbBot-(i+1)*band,width:cbw,height:band+0.5,fill:c},cb); });
  mk("rect",{x:cbx,y:cbTop,width:cbw,height:cbBot-cbTop,fill:"none",stroke:"#000","stroke-width":1.5},cb);
  cbTicks.forEach((v,i)=>{
    const y=cbBot-(v/0.05)*(cbBot-cbTop);
    mk("line",{x1:cbx+cbw,y1:y,x2:cbx+cbw+8,y2:y,stroke:"#000","stroke-width":1.5},cb);
    const e=mk("text",{x:cbx+cbw+13,y:y+8,"font-size":23},cb); e.textContent=cbTickLabels[i];
    
    
  });
  const ct=mk("text",{x:ox+858,y:oy+24,"font-size":25},cb);
  ct.innerHTML='τ<tspan font-size="19" dy="6">675 nm</tspan>';
  
  
});
</script>
</body></html>
